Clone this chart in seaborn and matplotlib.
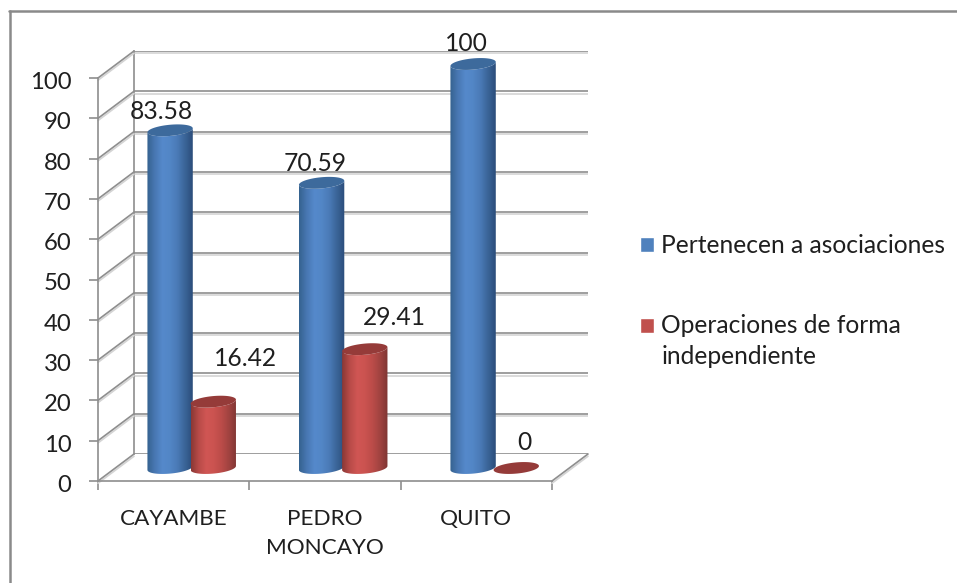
"""Cylinder column chart: asociaciones vs. independientes per canton."""

import matplotlib
matplotlib.use("Agg")
import matplotlib.patheffects as pe
import matplotlib.pyplot as plt
from matplotlib.colors import LinearSegmentedColormap
from matplotlib.lines import Line2D
from matplotlib.patches import Polygon
from matplotlib.transforms import ScaledTranslation
import numpy as np
import pandas as pd
import seaborn as sns

CANTONES = ["CAYAMBE", "PEDRO\nMONCAYO", "QUITO"]
SERIES = ["Pertenecen a asociaciones", "Operaciones de forma\nindependiente"]
ASOCIACIONES = [83.58, 70.59, 100]
INDEPENDIENTES = [16.42, 29.41, 0]
VALUE_LABELS = [["83.58", "70.59", "100"], ["16.42", "29.41", "0"]]
Y_TICKS = list(range(0, 101, 10))

W, H = 957, 583
GRID = "#8e8e8e"
TEXT = "#1f1f1f"
FS = 16.2
FS_NUM = 17.2
FS_VAL = 17.7
FS_LEG = 17.7

sns.set_theme(style="white")
plt.rcParams["font.family"] = ["Lato", "DejaVu Sans"]


def add_axes_px(fig, left, top, right, bottom):
    """Axes placed by pixel edges, y measured from the top of the image."""
    ax = fig.add_axes([left / W, 1 - bottom / H, (right - left) / W, (bottom - top) / H])
    ax.patch.set_visible(False)
    return ax


def shadow():
    return [pe.SimpleLineShadow(offset=(0, -1.6), shadow_color="#d4d4d4", alpha=1.0), pe.Normal()]


def draw_back_wall(fig):
    ax = add_axes_px(fig, 134, 51, 588, 454)
    ax.set_xlim(0, 1)
    ax.set_ylim(0, 100)
    ax.set_yticks(Y_TICKS)
    ax.set_xticks([])
    ax.tick_params(left=False, labelleft=False)
    ax.grid(axis="y", color=GRID, linewidth=1.2, path_effects=shadow())
    sns.despine(ax=ax, left=False, top=True, right=True, bottom=True)
    ax.spines["left"].set_color(GRID)
    ax.spines["left"].set_linewidth(1.2)
    ax.set_clip_on(False)


def draw_front_axes(fig):
    ax = add_axes_px(fig, 98, 78, 552, 481)
    ax.set_xlim(0, 3)
    ax.set_ylim(0, 100)
    ax.set_yticks(Y_TICKS)
    ax.set_xticks(range(4))
    ax.set_xticklabels([])
    ax.set_xticks([0.5, 1.5, 2.5], labels=CANTONES, minor=True)
    ax.tick_params(axis="y", left=True, length=6.5, width=1.2, color=GRID,
                   labelsize=FS_NUM, labelcolor=TEXT, pad=12.5)
    ax.tick_params(axis="x", which="major", length=6.5, width=1.2, color=GRID, bottom=True)
    ax.tick_params(axis="x", which="minor", length=0, labelsize=FS, labelcolor=TEXT, pad=20)
    for lab in ax.get_xticklabels(minor=True):
        lab.set_linespacing(1.55)
    down = ScaledTranslation(0, -2.5 / 100, fig.dpi_scale_trans)
    for lab in ax.get_yticklabels():
        lab.set_transform(lab.get_transform() + down)
    sns.despine(ax=ax)
    for side in ["left", "bottom"]:
        ax.spines[side].set_color(GRID)
        ax.spines[side].set_linewidth(1.2)
    # floor and side wall edges going back to the wall
    dx = 36 / (454 / 3)
    dy = 27 / (403 / 100)
    for v in Y_TICKS:
        ax.plot([0, dx], [v, v + dy], color=GRID, lw=1.2, clip_on=False, path_effects=shadow())
    ax.plot([3, 3 + dx], [0, dy], color=GRID, lw=1.2, clip_on=False, path_effects=shadow())


def ellipse_xy(cx, half_w, v, t, px_unit):
    """Tilted ellipse outline at height v, in data coordinates."""
    return cx + half_w * np.cos(t), v + (5.6 * np.sin(t) + 2.0 * np.cos(t)) / px_unit


def draw_cylinders(fig):
    ax = add_axes_px(fig, 0, 0, W, H)
    df = pd.DataFrame({
        "canton": CANTONES * 2,
        "serie": [SERIES[0]] * 3 + [SERIES[1]] * 3,
        "valor": ASOCIACIONES + INDEPENDIENTES,
    })
    sns.barplot(
        data=df, x="canton", y="valor", hue="serie", ax=ax, width=0.57, gap=0,
        palette=["#4f81bd", "#c0504d"], saturation=1, errorbar=None,
    )
    # full-figure axes: category 0 boundary at 191.7 px, 151.5 px per category, 4.04 px per unit
    xlim = ((0 - 191.7) / 151.5, (W - 191.7) / 151.5)
    ylim = ((468 - H) / 4.04, 468 / 4.04)
    px_unit = 4.04

    cmaps = [
        LinearSegmentedColormap.from_list(
            "b", ["#35628f", "#4877b2", "#5589cb", "#5286c6", "#4a7ab6", "#3a6497", "#2b4d7a"]),
        LinearSegmentedColormap.from_list(
            "r", ["#8a3835", "#b84b48", "#d05654", "#cb5350", "#bb4c49", "#a04340", "#7f3533"]),
    ]
    tops = ["#3d6a9c", "#953b39"]
    # label offsets from each top, in pixels
    offsets = [[(-9, 19), (-6, 19), (-7, 21)], [(32, 43), (30, 32), (8, 26)]]
    t_low = np.linspace(np.pi, 2 * np.pi, 40)
    t_all = np.linspace(0, 2 * np.pi, 80)
    grad = np.linspace(0, 1, 128).reshape(1, -1)

    for s, container in enumerate(ax.containers):
        for i, rect in enumerate(container):
            cx = rect.get_x() + rect.get_width() / 2
            half_w = 0.525 * rect.get_width()
            v = rect.get_height()
            z = 3 + s + i * 3
            rect.set_zorder(z)
            if v > 0:
                rect.set_visible(False)
                bx, by = ellipse_xy(cx, half_w, 0, t_low, px_unit)
                tx, ty = ellipse_xy(cx, half_w, v, t_low[::-1], px_unit)
                body = Polygon(np.c_[np.r_[bx, tx], np.r_[by, ty]], closed=True, transform=ax.transData)
                im = ax.imshow(
                    grad, cmap=cmaps[s], aspect="auto", zorder=z, interpolation="bilinear",
                    extent=(cx - half_w, cx + half_w, -5, v + 5),
                )
                im.set_clip_path(body)
            ex, ey = ellipse_xy(cx, half_w, v, t_all, px_unit)
            ax.add_patch(Polygon(np.c_[ex, ey], closed=True, facecolor=tops[s], edgecolor="none", zorder=z + 0.5))
            ax.annotate(
                VALUE_LABELS[s][i], (cx, v), xytext=offsets[s][i], textcoords="offset pixels",
                ha="center", va="center", fontsize=FS_VAL, color=TEXT, zorder=20,
            )

    ax.set_xlim(*xlim)
    ax.set_ylim(*ylim)
    old = ax.get_legend()
    handles = old.legend_handles
    old.remove()
    leg = ax.legend(
        handles, SERIES, loc="upper left", bbox_to_anchor=(640 / W, 1 - 234 / H),
        frameon=False, fontsize=FS_LEG, labelcolor=TEXT, handlelength=0.57, handleheight=0.57,
        handletextpad=0.29, labelspacing=2.32, borderaxespad=0, borderpad=0,
    )
    for text in leg.get_texts():
        text.set_linespacing(1.43)
    # the marker of the wrapped entry sits on its first line
    low = leg.legend_handles[1]
    low.set_y(low.get_y() + 12)
    ax.axis("off")


def main():
    fig = plt.figure(figsize=(W / 100, H / 100), dpi=100, facecolor="white")
    draw_back_wall(fig)
    draw_front_axes(fig)
    draw_cylinders(fig)
    # chart frame, runs off the image on the right and bottom
    frame = dict(color="#8a8a8a", lw=1.8, transform=fig.transFigure)
    fig.add_artist(Line2D([8.5 / W, 1], [1 - 11.3 / H, 1 - 11.3 / H], **frame))
    fig.add_artist(Line2D([9.5 / W, 9.5 / W], [0, 1 - 11.3 / H], **frame))
    fig.savefig("out.png", dpi=100)
    plt.close(fig)


if __name__ == "__main__":
    main()
